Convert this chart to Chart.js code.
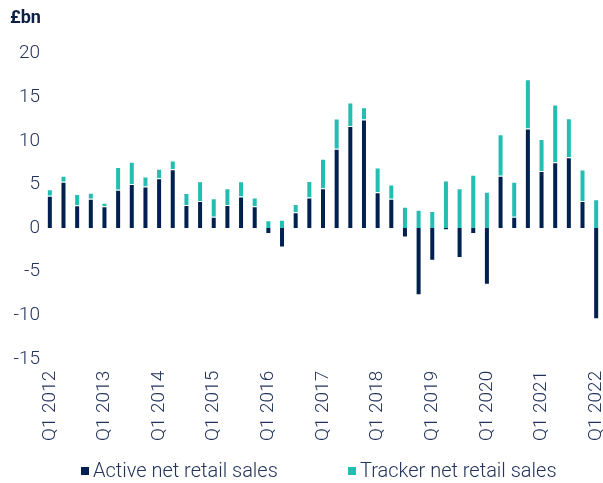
<!DOCTYPE html>
<html lang="en">
<head>
  <meta charset="UTF-8">
  <title>Net retail sales</title>
  <script src="https://cdn.jsdelivr.net/npm/chart.js"></script>
  <style>
    html, body { margin: 0; padding: 0; background: #fff; }
    #wrap { width: 603px; height: 483px; position: relative; }
    #legend {
      position: absolute; left: 0; top: 458px; width: 603px;
      font-family: Roboto, sans-serif; font-weight: 300; font-size: 20px; color: #22325a;
      white-space: nowrap;
    }
    #legend span { position: absolute; top: 0; line-height: 24px; }
    #legend i { display: inline-block; width: 8px; height: 8px; margin-right: 4px; vertical-align: 2px; }
  </style>
</head>
<body>
  <div id="wrap">
    <canvas id="salesChart"></canvas>
    <div id="legend"></div>
  </div>
  <script>
    // quarterly labels, Q1 2012 .. Q1 2022
    const quarters = [];
    for (let y = 2012; y <= 2022; y++) {
      for (let q = 1; q <= 4; q++) {
        if (y === 2022 && q > 1) break;
        quarters.push('Q' + q + ' ' + y);
      }
    }

    // £bn
    const activeSales = [
      3.7, 5.3, 2.6, 3.35, 2.5, 4.4, 5.05, 4.75, 5.7, 6.75,
      2.65, 3.1, 1.3, 2.65, 3.6, 2.5, -0.7, -2.25, 1.8, 3.5,
      4.55, 9.1, 11.7, 12.45, 4.1, 3.35, -1.1, -7.7, -3.75, -0.25,
      -3.45, -0.7, -6.5, 6.0, 1.3, 11.4, 6.55, 7.55, 8.1, 3.1,
      -10.45
    ];
    const trackerSales = [
      0.75, 0.7, 1.3, 0.7, 0.4, 2.6, 2.55, 1.15, 1.1, 1.0,
      1.35, 2.25, 2.1, 1.9, 1.75, 1.0, 0.9, 0.95, 0.95, 1.9,
      3.4, 3.45, 2.7, 1.4, 2.85, 1.65, 2.45, 2.1, 1.95, 5.45,
      4.55, 6.1, 4.15, 4.75, 4.0, 5.65, 3.65, 6.6, 4.5, 3.6,
      3.3
    ];
    const yTicks = { min: -15, max: 20, step: 5 };

    const navy = '#00214f';
    const teal = '#23bdb2';
    const ink = '#22325a';

    const chart = new Chart(document.getElementById('salesChart'), {
      type: 'bar',
      data: {
        labels: quarters,
        datasets: [
          { label: 'Active net retail sales', data: activeSales, backgroundColor: navy,
            borderColor: 'rgba(255,255,255,0.45)', borderWidth: 1 },
          { label: 'Tracker net retail sales', data: trackerSales, backgroundColor: teal,
            borderColor: 'rgba(255,255,255,0.45)', borderWidth: 1 }
        ]
      },
      options: {
        responsive: true,
        maintainAspectRatio: false,
        animation: false,
        layout: { padding: { left: 10, right: 0, top: 4, bottom: 38 } },
        datasets: { bar: { categoryPercentage: 1, barPercentage: 0.44 } },
        plugins: {
          title: {
            display: true, text: '£bn', align: 'start', color: '#0d1f45',
            font: { family: 'Roboto', size: 18, weight: 'bold' },
            padding: { top: 4, bottom: 24 }
          },
          legend: { display: false },
          tooltip: { enabled: false }
        },
        scales: {
          x: {
            stacked: true,
            grid: { display: false },
            border: { display: false },
            // let the bars run right up to the edges
            afterFit: (scale) => { scale.paddingLeft = 0; scale.paddingRight = 0; },
            ticks: {
              color: ink, autoSkip: false, minRotation: 90, maxRotation: 90, padding: 4,
              font: { family: 'Roboto', size: 19, weight: '300' },
              callback: function (v, i) { return i % 4 === 0 ? this.getLabelForValue(v) : ''; }
            }
          },
          y: {
            stacked: true,
            min: yTicks.min, max: yTicks.max,
            grid: { display: false, drawTicks: false },
            border: { display: false },
            afterFit: (scale) => { scale.width = 33; },
            ticks: {
              stepSize: yTicks.step, color: ink, padding: 3,
              font: { family: 'Roboto', size: 19, weight: '300' }
            }
          }
        }
      }
    });

    // legend drawn as html so the two entries can sit far apart
    const legendX = [81, 348];
    const legend = document.getElementById('legend');
    chart.data.datasets.forEach((ds, i) => {
      const item = document.createElement('span');
      item.style.left = legendX[i] + 'px';
      item.innerHTML = '<i style="background:' + ds.backgroundColor + '"></i>' + ds.label;
      legend.appendChild(item);
    });
  </script>
</body>
</html>
